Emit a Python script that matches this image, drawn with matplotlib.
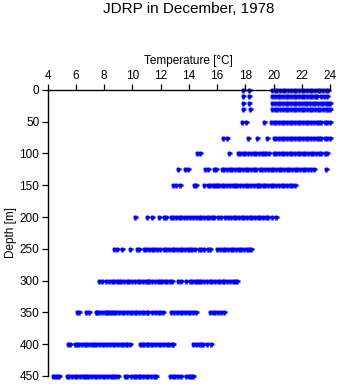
import matplotlib
matplotlib.use('Agg')
import matplotlib.pyplot as plt

plt.rcParams['font.family'] = ['Liberation Sans', 'DejaVu Sans']

depths = [0, 10, 20, 30, 50, 75, 100, 125, 150, 200, 250, 300, 350, 400, 450]

t_0 = [17.80, 18.26, 19.90, 20.08, 20.27, 20.45, 20.66, 20.84, 21.03, 21.22, 21.41, 21.60, 21.79, 21.98,
       22.17, 22.36, 22.55, 22.74, 22.93, 23.12, 23.31, 23.50, 23.68, 23.82]
t_10 = [17.80, 18.26, 19.90, 20.10, 20.28, 20.47, 20.65, 20.85, 21.04, 21.22, 21.42, 21.61, 21.80, 21.98,
        22.18, 22.37, 22.55, 22.74, 22.93, 23.10, 23.35, 23.55, 23.76]
t_20 = [17.80, 18.26, 19.90, 20.09, 20.29, 20.48, 20.67, 20.86, 21.05, 21.24, 21.43, 21.62, 21.81, 22.00,
        22.19, 22.38, 22.57, 22.76, 22.95, 23.14, 23.33, 23.52, 23.71, 23.88, 23.98]
t_30 = [17.85, 18.30, 19.90, 20.08, 20.27, 20.46, 20.66, 20.85, 21.04, 21.23, 21.42, 21.61, 21.80, 21.99,
        22.18, 22.37, 22.56, 22.75, 22.94, 23.13, 23.32, 23.51, 23.70, 23.87, 23.97]
t_50 = [17.78, 18.02, 19.30, 19.80, 20.00, 20.19, 20.38, 20.57, 20.76, 20.95, 21.14, 21.33, 21.52, 21.71,
        21.90, 22.09, 22.28, 22.47, 22.66, 22.85, 23.04, 23.22, 23.38, 23.62, 23.80, 23.96]
t_75 = [16.42, 16.68, 18.20, 18.80, 19.50, 20.00, 20.19, 20.38, 20.57, 20.76, 20.95, 21.14, 21.33, 21.52,
        21.71, 21.90, 22.09, 22.28, 22.47, 22.66, 22.85, 23.04, 23.22, 23.38, 23.62, 23.80, 23.96]
t_100 = [14.55, 14.78, 16.85, 17.45, 17.63, 17.82, 18.00, 18.20, 18.39, 18.58, 18.77, 18.96, 19.15, 19.30,
         19.48, 19.70, 20.00, 20.19, 20.38, 20.57, 20.76, 20.95, 21.14, 21.33, 21.52, 21.71, 21.88, 22.05,
         22.24, 22.43, 22.62, 22.81, 23.00, 23.19, 23.38, 23.62, 23.80]
t_125 = [13.20, 13.70, 13.95, 15.15, 15.32, 15.75, 15.92, 16.32, 16.51, 16.70, 16.89, 17.08, 17.27, 17.46,
         17.65, 17.84, 18.03, 18.22, 18.41, 18.60, 18.78, 19.02, 19.21, 19.40, 19.59, 19.78, 19.97, 20.16,
         20.35, 20.54, 20.73, 20.92, 21.11, 21.30, 21.49, 21.68, 21.87, 22.06, 22.25, 22.44, 22.63, 22.85,
         23.72]
t_150 = [12.90, 13.10, 13.40, 14.35, 14.52, 15.08, 15.32, 15.50, 15.68, 15.86, 16.00, 16.14, 16.33, 16.52,
         16.71, 16.90, 17.09, 17.28, 17.40, 17.65, 17.84, 18.03, 18.22, 18.41, 18.60, 18.79, 18.90, 19.05,
         19.25, 19.42, 19.61, 19.80, 19.99, 20.18, 20.37, 20.56, 20.75, 20.94, 21.13, 21.32, 21.48]
t_200 = [10.20, 11.05, 11.35, 11.90, 12.22, 12.40, 12.70, 12.89, 13.08, 13.27, 13.46, 13.65, 13.84, 14.05,
         14.30, 14.49, 14.68, 14.87, 15.06, 15.25, 15.44, 15.63, 15.78, 16.05, 16.25, 16.55, 16.78, 16.97,
         17.16, 17.35, 17.54, 17.73, 17.92, 18.11, 18.30, 18.49, 18.68, 18.87, 19.06, 19.25, 19.44, 19.58,
         19.85, 20.15]
t_250 = [8.72, 8.90, 9.25, 9.85, 10.30, 10.48, 10.80, 10.99, 11.18, 11.37, 11.56, 11.75, 11.92, 12.20,
         12.39, 12.58, 12.77, 12.96, 13.15, 13.34, 13.53, 13.72, 13.91, 14.10, 14.25, 14.40, 14.68, 14.87,
         15.08, 15.32, 15.52, 16.00, 16.19, 16.38, 16.57, 16.76, 16.95, 17.14, 17.33, 17.52, 17.71, 17.90,
         18.09, 18.28, 18.40]
t_300 = [7.65, 7.85, 8.15, 8.34, 8.53, 8.72, 8.90, 9.06, 9.22, 9.41, 9.60, 9.79, 9.98, 10.17, 10.36,
         10.55, 10.74, 10.93, 11.12, 11.20, 11.40, 11.59, 11.78, 11.97, 12.10, 12.29, 12.48, 12.67, 12.78,
         13.25, 13.45, 13.80, 14.05, 14.22, 14.40, 14.56, 14.70, 14.89, 15.08, 15.27, 15.46, 15.65, 15.84,
         16.03, 16.22, 16.41, 16.52, 16.72, 16.91, 17.10, 17.29, 17.38]
t_350 = [6.05, 6.20, 6.70, 6.90, 7.40, 7.52, 7.66, 7.85, 8.04, 8.23, 8.30, 8.42, 8.52, 8.66, 8.85, 9.04,
         9.23, 9.42, 9.61, 9.80, 9.99, 10.18, 10.25, 10.47, 10.66, 10.85, 11.04, 11.12, 11.42, 11.61, 11.80,
         11.95, 12.15, 12.75, 12.95, 13.15, 13.34, 13.53, 13.72, 13.91, 14.10, 14.29, 14.48, 15.50, 15.69,
         15.88, 16.07, 16.26, 16.45]
t_400 = [5.40, 5.60, 5.92, 6.10, 6.24, 6.43, 6.62, 6.74, 6.93, 7.12, 7.31, 7.45, 7.64, 7.83, 8.02, 8.21,
         8.40, 8.59, 8.78, 8.97, 9.16, 9.35, 9.54, 9.64, 9.86, 10.50, 10.66, 10.84, 11.03, 11.12, 11.28,
         11.47, 11.66, 11.85, 12.05, 12.26, 12.42, 12.61, 12.80, 12.90, 14.30, 14.49, 14.68, 14.87, 15.00,
         15.30, 15.55]
t_450 = [4.35, 4.50, 4.65, 4.80, 5.35, 5.54, 5.73, 5.90, 6.10, 6.29, 6.48, 6.67, 6.80, 6.95, 7.14, 7.33,
         7.52, 7.71, 7.90, 8.09, 8.28, 8.47, 8.63, 8.75, 8.95, 9.45, 9.60, 9.90, 10.09, 10.28, 10.44, 10.55,
         10.74, 10.93, 11.12, 11.31, 11.50, 11.65, 12.65, 12.84, 13.03, 13.22, 13.42, 13.80, 13.99, 14.18,
         14.30]

temps = [t_0, t_10, t_20, t_30, t_50, t_75, t_100, t_125, t_150, t_200, t_250, t_300, t_350, t_400, t_450]

fig = plt.figure(figsize=(3.41, 3.84), dpi=100)
ax = fig.add_axes([0.14, 0.021, 0.828, 0.745])

for d, t in zip(depths, temps):
    ax.plot(t, [d] * len(t), linestyle='none', marker='+', markersize=3.6,
            markeredgewidth=1.8, color='#0000ff', antialiased=False, clip_on=False)

ax.set_xlim(4, 24)
ax.set_ylim(450, 0)
ax.set_xticks(range(4, 25, 2))
ax.set_yticks(range(0, 451, 50))

ax.xaxis.tick_top()
ax.xaxis.set_label_position('top')
ax.spines['right'].set_visible(False)
ax.spines['bottom'].set_visible(False)
for s in ['top', 'left']:
    ax.spines[s].set_linewidth(1.0)
ax.tick_params(direction='out', length=4, width=0.9, labelsize=8.5, pad=2)

ax.set_xlabel('Temperature [°C]', fontsize=8.5, labelpad=4)
ax.set_ylabel('Depth [m]', fontsize=8.5, labelpad=2)
fig.text(189 / 341, 1 - 9 / 384, 'JDRP in December, 1978', ha='center', va='center', fontsize=11)

plt.savefig('out.png', dpi=100)
